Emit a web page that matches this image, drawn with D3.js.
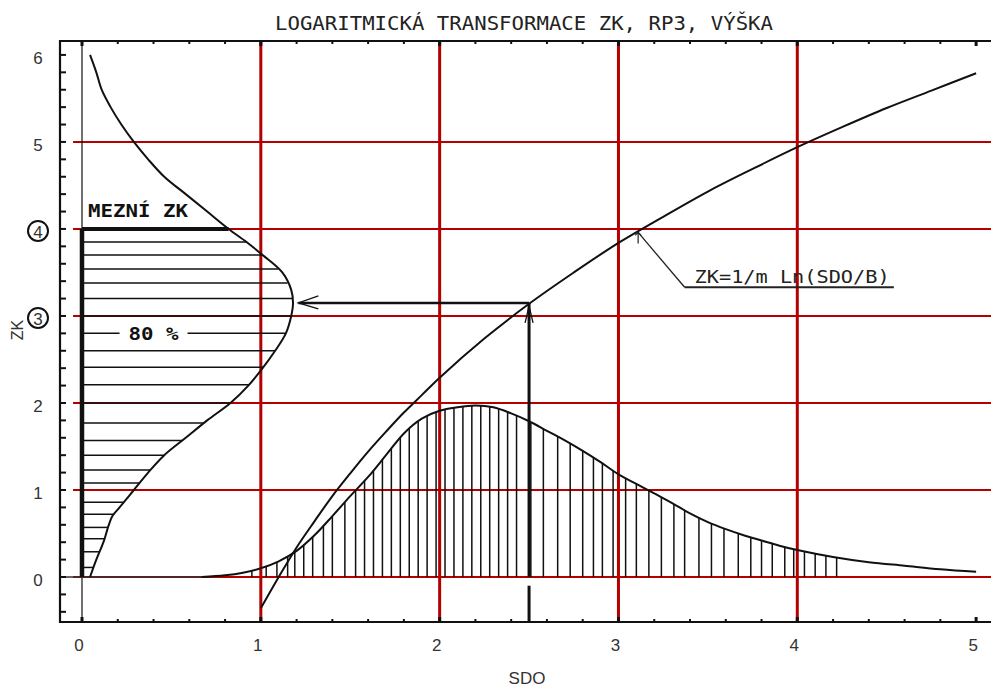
<!DOCTYPE html>
<html><head><meta charset="utf-8">
<script src="https://cdn.jsdelivr.net/npm/d3@7"></script>
<style>
html,body{margin:0;padding:0;background:#fff;}
svg{display:block;}
</style></head>
<body>
<script>
// ---------- DATA ----------
const title = "LOGARITMICKÁ TRANSFORMACE ZK, RP3, VÝŠKA";
const xLabel = "SDO";
const yLabel = "ZK";
const sdoTickLabels = [0, 1, 2, 3, 4, 5];
const zkTickLabels = [0, 1, 2, 3, 4, 5, 6];
const circledZK = [3, 4];
const gridSDO = [1, 2, 3, 4];
const gridZK = [0, 1, 2, 3, 4, 5];

// transformation curve ZK = 1/m Ln(SDO/B)
const logSDO = [1.0, 1.1, 1.2, 1.3, 1.4, 1.5, 1.6, 1.7, 1.8, 1.9, 2.0, 2.25, 2.5, 2.75, 3.0, 3.25, 3.5, 3.75, 4.0, 4.25, 4.5, 4.75, 5.0];
const logZK  = [-0.36, 0.0, 0.34, 0.64, 0.93, 1.19, 1.44, 1.67, 1.89, 2.09, 2.29, 2.74, 3.14, 3.50, 3.84, 4.14, 4.43, 4.69, 4.94, 5.17, 5.39, 5.59, 5.79];

// distribution of SDO (bottom)
const distSDO  = [0.67, 0.8, 0.9, 1.0, 1.1, 1.2, 1.3, 1.4, 1.5, 1.6, 1.7, 1.8, 1.9, 2.0, 2.1, 2.2, 2.3, 2.4, 2.5, 2.6, 2.7, 2.8, 2.9, 3.0, 3.1, 3.2, 3.3, 3.4, 3.5, 3.6, 3.7, 3.8, 3.9, 4.0, 4.2, 4.4, 4.6, 4.8, 5.0];
const distDens = [0.0, 0.02, 0.05, 0.10, 0.18, 0.30, 0.48, 0.70, 0.93, 1.15, 1.40, 1.65, 1.82, 1.91, 1.95, 1.97, 1.95, 1.88, 1.79, 1.68, 1.57, 1.45, 1.32, 1.18, 1.07, 0.96, 0.85, 0.73, 0.63, 0.55, 0.48, 0.42, 0.36, 0.31, 0.23, 0.17, 0.13, 0.09, 0.06];
const distHatchSDO = [0.95, 1.03, 1.09, 1.15, 1.19, 1.24, 1.29, 1.35, 1.40, 1.47, 1.53, 1.58, 1.63, 1.68, 1.73, 1.78, 1.83, 1.88, 1.93, 1.98, 2.03, 2.08, 2.13, 2.18, 2.23, 2.28, 2.33, 2.38, 2.43, 2.51, 2.58, 2.66, 2.73, 2.80, 2.86, 2.91, 2.97, 3.04, 3.10, 3.17, 3.24, 3.31, 3.37, 3.45, 3.52, 3.59, 3.67, 3.74, 3.80, 3.86, 3.93, 3.98, 4.04, 4.10, 4.16, 4.22];

// distribution of ZK (left, drawn sideways)
const leftZK  = [0.0, 0.2, 0.4, 0.6, 0.7, 0.8, 1.0, 1.2, 1.4, 1.6, 1.8, 2.0, 2.2, 2.4, 2.6, 2.8, 3.0, 3.15, 3.3, 3.5, 3.7, 3.85, 4.0, 4.2, 4.4, 4.6, 4.8, 5.0, 5.2, 5.4, 5.6, 5.8, 6.0];
const leftSDO = [0.045, 0.08, 0.12, 0.15, 0.17, 0.21, 0.29, 0.37, 0.46, 0.58, 0.70, 0.83, 0.93, 1.01, 1.08, 1.14, 1.17, 1.18, 1.17, 1.12, 1.01, 0.92, 0.82, 0.70, 0.58, 0.46, 0.37, 0.29, 0.22, 0.16, 0.11, 0.08, 0.045];
const leftHatchZK = [3.85, 3.70, 3.54, 3.38, 3.20, 3.00, 2.80, 2.60, 2.41, 2.21, 2.00, 1.77, 1.57, 1.40, 1.23, 1.08, 0.86, 0.72, 0.57, 0.44, 0.29, 0.11];

// annotations (data units)
const limitZK = 4;          // MEZNÍ ZK
const limitLabel = "MEZNÍ ZK";
const pctLabel = "80 %";
const pctZK = 2.80;
const exampleSDO = 2.5;
const exampleZK = 3.15;
const arrowEndSDO = 1.21;
const formulaLabel = "ZK=1/m Ln(SDO/B)";
const leaderFrom = [3.11, 3.96];
const leaderTo = [3.37, 3.33];
const underlineEndSDO = 4.54;

// ---------- CHART ----------
const W = 991, H = 688;
const svg = d3.select("body").append("svg").attr("width", W).attr("height", H)
  .style("background", "#fff");

const x = d3.scaleLinear().domain([-0.123, 5.1]).range([60, 994]);
const y = d3.scaleLinear().domain([-0.517, 6.16]).range([622, 41]);
const RED = "#b50000";
const INK = "#111";

function interp(xs, ys, v) {
  const i = Math.max(1, Math.min(xs.length - 1, d3.bisectLeft(xs, v)));
  const t = (v - xs[i - 1]) / (xs[i] - xs[i - 1]);
  return ys[i - 1] + t * (ys[i] - ys[i - 1]);
}

// grid
svg.append("g").selectAll("line").data(gridZK).join("line")
  .attr("x1", x(-0.05)).attr("x2", W).attr("y1", d => y(d)).attr("y2", d => y(d))
  .attr("stroke", RED).attr("stroke-width", 2);
svg.append("g").selectAll("line").data(gridSDO).join("line")
  .attr("x1", d => x(d)).attr("x2", d => x(d)).attr("y1", y.range()[1]).attr("y2", y.range()[0])
  .attr("stroke", RED).attr("stroke-width", 3);

// zero axis lines
svg.append("line").attr("x1", x(0)).attr("x2", x(0)).attr("y1", y.range()[1]).attr("y2", y.range()[0])
  .attr("stroke", INK).attr("stroke-width", 1.2);
svg.append("line").attr("x1", x.range()[0]).attr("x2", x(distSDO[0])).attr("y1", y(0)).attr("y2", y(0))
  .attr("stroke", "#333").attr("stroke-width", 1.5);

// frame
svg.append("path")
  .attr("d", `M${W},${y.range()[1]}H${x.range()[0]}V${y.range()[0]}H${W}`)
  .attr("fill", "none").attr("stroke", INK).attr("stroke-width", 2.2);

// ticks
const minorX = d3.range(0, 5.001, 0.2);
const gt = svg.append("g").attr("stroke", INK);
minorX.forEach(v => {
  const major = Math.abs(v - Math.round(v)) < 1e-6;
  const L = major ? 5 : 3;
  gt.append("line").attr("x1", x(v)).attr("x2", x(v)).attr("y1", y.range()[0]).attr("y2", y.range()[0] - L).attr("stroke-width", major ? 3 : 2);
  gt.append("line").attr("x1", x(v)).attr("x2", x(v)).attr("y1", y.range()[1]).attr("y2", y.range()[1] + L).attr("stroke-width", major ? 3 : 2);
});
d3.range(-0.4, 6.001, 0.2).forEach(v => {
  gt.append("line").attr("x1", x.range()[0]).attr("x2", x.range()[0] + 6).attr("y1", y(v)).attr("y2", y(v)).attr("stroke-width", 2);
});

// tick labels
const labelFont = "Liberation Sans, Arial, sans-serif";
svg.append("g").selectAll("text").data(sdoTickLabels).join("text")
  .attr("x", d => x(d) - 3).attr("y", 651).attr("text-anchor", "middle")
  .attr("font-family", labelFont).attr("font-size", 17).attr("fill", "#333").text(d => d);
svg.append("g").selectAll("text").data(zkTickLabels).join("text")
  .attr("x", 38).attr("y", d => y(d) + 9).attr("text-anchor", "middle")
  .attr("font-family", labelFont).attr("font-size", 17).attr("fill", "#333").text(d => d);
svg.append("g").selectAll("circle").data(circledZK).join("circle")
  .attr("cx", 38).attr("cy", d => y(d) + 2).attr("r", 10)
  .attr("fill", "none").attr("stroke", INK).attr("stroke-width", 2);

// axis titles
svg.append("text").attr("x", 527).attr("y", 684).attr("text-anchor", "middle")
  .attr("font-family", labelFont).attr("font-size", 17).attr("fill", "#333").text(xLabel);
svg.append("text").attr("transform", "translate(23,330) rotate(-90)").attr("text-anchor", "middle")
  .attr("font-family", labelFont).attr("font-size", 16).attr("fill", "#333").text(yLabel);
svg.append("text").attr("x", 275).attr("y", 30)
  .attr("font-family", "DejaVu Sans Mono, monospace").attr("font-size", 19).attr("fill", "#222")
  .attr("textLength", 498).attr("lengthAdjust", "spacingAndGlyphs").text(title);

// ---------- left distribution ----------
const leftPts = leftZK.map((z, i) => [leftSDO[i], z]);
// hatches
svg.append("g").selectAll("line").data(leftHatchZK).join("line")
  .attr("x1", x(0)).attr("x2", d => x(interp(leftZK, leftSDO, d)))
  .attr("y1", d => y(d)).attr("y2", d => y(d))
  .attr("stroke", INK).attr("stroke-width", 1.5);
svg.append("path").datum(leftPts)
  .attr("d", d3.line().x(d => x(d[0])).y(d => y(d[1])).curve(d3.curveCatmullRom))
  .attr("fill", "none").attr("stroke", INK).attr("stroke-width", 2);
// limit
svg.append("line").attr("x1", x(0)).attr("x2", x(0)).attr("y1", y(0)).attr("y2", y(limitZK))
  .attr("stroke", INK).attr("stroke-width", 4.5);
svg.append("line").attr("x1", x(0)).attr("x2", x(interp(leftZK, leftSDO, limitZK))).attr("y1", y(limitZK)).attr("y2", y(limitZK))
  .attr("stroke", INK).attr("stroke-width", 4);
svg.append("text").attr("x", x(0) + 6).attr("y", y(limitZK) - 12)
  .attr("font-family", "DejaVu Sans Mono, monospace").attr("font-weight", "bold").attr("font-size", 17)
  .attr("textLength", 100).attr("lengthAdjust", "spacingAndGlyphs").attr("fill", INK).text(limitLabel);
// 80 % label
svg.append("rect").attr("x", x(0.21)).attr("y", y(pctZK) - 10).attr("width", x(0.59) - x(0.21)).attr("height", 20).attr("fill", "#fff");
svg.append("text").attr("x", x(0.40)).attr("y", y(pctZK) + 7).attr("text-anchor", "middle")
  .attr("font-family", "DejaVu Sans Mono, monospace").attr("font-weight", "bold").attr("font-size", 17)
  .attr("textLength", 50).attr("lengthAdjust", "spacingAndGlyphs").attr("fill", INK).text(pctLabel);

// ---------- bottom distribution ----------
svg.append("g").selectAll("line").data(distHatchSDO).join("line")
  .attr("x1", d => x(d)).attr("x2", d => x(d))
  .attr("y1", y(0)).attr("y2", d => y(interp(distSDO, distDens, d)))
  .attr("stroke", INK).attr("stroke-width", 1.5);
svg.append("path").datum(distSDO.map((s, i) => [s, distDens[i]]))
  .attr("d", d3.line().x(d => x(d[0])).y(d => y(d[1])).curve(d3.curveCatmullRom))
  .attr("fill", "none").attr("stroke", INK).attr("stroke-width", 2);

// ---------- transformation curve ----------
svg.append("path").datum(logSDO.map((s, i) => [s, logZK[i]]))
  .attr("d", d3.line().x(d => x(d[0])).y(d => y(d[1])).curve(d3.curveCatmullRom))
  .attr("fill", "none").attr("stroke", INK).attr("stroke-width", 2);

// example arrows
svg.append("line").attr("x1", x(exampleSDO)).attr("x2", x(exampleSDO)).attr("y1", y(exampleZK)).attr("y2", y(0))
  .attr("stroke", INK).attr("stroke-width", 3);
svg.append("line").attr("x1", x(exampleSDO)).attr("x2", x(exampleSDO)).attr("y1", y(-0.1)).attr("y2", y.range()[0])
  .attr("stroke", INK).attr("stroke-width", 3);
svg.append("line").attr("x1", x(exampleSDO)).attr("x2", x(arrowEndSDO)).attr("y1", y(exampleZK)).attr("y2", y(exampleZK))
  .attr("stroke", INK).attr("stroke-width", 2.5);
{
  const tx = x(arrowEndSDO), ty = y(exampleZK);
  svg.append("path").attr("d", `M${tx + 20},${ty - 7}L${tx},${ty}L${tx + 20},${ty + 6}`)
    .attr("fill", "none").attr("stroke", INK).attr("stroke-width", 1.3);
  const ux = x(exampleSDO), uy = y(exampleZK);
  svg.append("path").attr("d", `M${ux - 4},${uy + 20}L${ux},${uy + 3}L${ux + 4},${uy + 20}`)
    .attr("fill", "none").attr("stroke", INK).attr("stroke-width", 1.3);
}

// formula leader
{
  const fx = x(leaderFrom[0]), fy = y(leaderFrom[1]);
  svg.append("line").attr("x1", fx).attr("y1", fy).attr("x2", x(leaderTo[0])).attr("y2", y(leaderTo[1]))
    .attr("stroke", "#222").attr("stroke-width", 1.3);
  svg.append("line").attr("x1", x(leaderTo[0])).attr("y1", y(leaderTo[1])).attr("x2", x(underlineEndSDO)).attr("y2", y(leaderTo[1]))
    .attr("stroke", "#222").attr("stroke-width", 2);
  svg.append("path").attr("d", `M${fx - 3},${fy + 3}L${fx},${fy}L${fx + 3},${fy + 3}M${fx},${fy}V${fy + 11}`)
    .attr("fill", "none").attr("stroke", "#222").attr("stroke-width", 1.2);
  svg.append("text").attr("x", x(leaderTo[0]) + 10).attr("y", y(leaderTo[1]) - 4)
    .attr("font-family", "DejaVu Sans Mono, monospace").attr("font-size", 18).attr("fill", "#222")
    .attr("textLength", 195).attr("lengthAdjust", "spacingAndGlyphs").text(formulaLabel);
}
</script>
</body></html>
